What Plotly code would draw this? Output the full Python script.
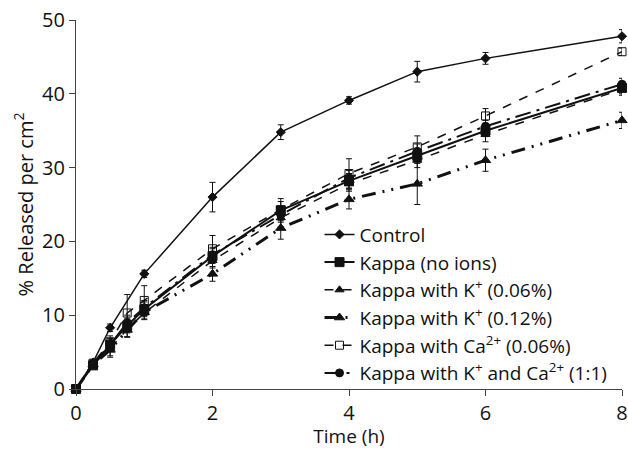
import plotly.graph_objects as go

TIME = [0, 0.25, 0.5, 0.75, 1, 2, 3, 4, 5, 6, 8]
TIME_CONTROL = [0, 0.25, 0.5, 1, 2, 3, 4, 5, 6, 8]

CONTROL = [0, 3.6, 8.3, 15.6, 26.0, 34.8, 39.1, 43.0, 44.8, 47.8]
CONTROL_ERR = [0, 0.3, 0.5, 0.5, 2.0, 1.0, 0.5, 1.4, 0.8, 0.9]

KAPPA = [0, 3.2, 6.0, 8.6, 10.8, 18.0, 24.2, 28.2, 31.6, 35.0, 40.8]
KAPPA_ERR = [0, 0.3, 0.8, 1.0, 1.0, 1.0, 1.2, 1.0, 1.0, 0.8, 0.8]

K006 = [0, 3.3, 5.5, 8.1, 10.3, 17.4, 23.2, 27.8, 31.0, 34.5, 40.6]
K006_ERR = [0, 0.3, 1.0, 1.0, 0.8, 1.0, 1.2, 1.0, 1.0, 1.0, 0.8]

K012 = [0, 3.3, 5.3, 8.0, 10.4, 15.6, 21.8, 25.7, 27.8, 31.0, 36.4]
K012_ERR = [0, 0.3, 1.0, 1.0, 1.0, 1.0, 1.5, 1.3, 2.8, 1.5, 1.1]

CA006 = [0, 3.5, 6.4, 10.3, 12.0, 19.0, 24.3, 29.2, 32.8, 37.0, 45.7]
CA006_ERR = [0, 0.3, 0.8, 2.5, 2.0, 1.8, 1.5, 2.0, 1.5, 1.0, 0.5]

KCA = [0, 3.5, 6.0, 9.0, 11.0, 18.2, 23.6, 28.6, 32.2, 35.6, 41.3]
KCA_ERR = [0, 0.3, 0.8, 1.0, 1.0, 1.0, 1.0, 1.0, 1.0, 0.8, 0.8]

FONT = "Open Sans"
INK = "#111111"


def series(x, y, err, name, dash, width, symbol, size):
    return go.Scatter(
        x=x,
        y=y,
        name=name,
        mode="lines+markers",
        cliponaxis=False,
        line={"color": INK, "width": width, "dash": dash},
        marker={"symbol": symbol, "size": size, "color": INK,
                "line": {"color": INK, "width": 1}},
        error_y={"type": "data", "array": err, "color": INK,
                 "thickness": 1, "width": 3},
    )


fig = go.Figure()
fig.add_trace(series(TIME_CONTROL, CONTROL, CONTROL_ERR, "Control",
                     "solid", 1.5, "diamond", 7))
fig.add_trace(series(TIME, KAPPA, KAPPA_ERR, "Kappa (no ions)",
                     "solid", 2, "square", 9))
fig.add_trace(series(TIME, K006, K006_ERR, "Kappa with K<sup>+</sup> (0.06%)",
                     "dash", 1.5, "triangle-up", 8))
fig.add_trace(series(TIME, K012, K012_ERR, "Kappa with K<sup>+</sup> (0.12%)",
                     "14px,7px,2px,7px,2px,7px", 3, "triangle-up", 9))
fig.add_trace(series(TIME, CA006, CA006_ERR, "Kappa with Ca<sup>2+</sup> (0.06%)",
                     "dash", 1.5, "square-open", 8))
fig.add_trace(series(TIME, KCA, KCA_ERR, "Kappa with K<sup>+</sup> and Ca<sup>2+</sup> (1:1)",
                     "16px,6px,3px,6px", 2, "circle", 8))

axis_common = dict(
    showline=True,
    linecolor="#444444",
    linewidth=1.2,
    ticks="outside",
    ticklen=6,
    tickcolor="#444444",
    showgrid=False,
    zeroline=False,
    automargin=False,
    ticklabeloverflow="allow",
    tickfont={"size": 20, "color": INK},
)

fig.update_layout(
    width=628,
    height=449,
    margin={"l": 76, "r": 6, "t": 20, "b": 60},
    plot_bgcolor="white",
    paper_bgcolor="white",
    font={"family": FONT, "color": INK},
    legend={
        "x": 0.446,
        "y": 0.47,
        "xanchor": "left",
        "yanchor": "top",
        "font": {"size": 19},
        "bgcolor": "rgba(0,0,0,0)",
        "tracegroupgap": 0,
        "itemwidth": 30,
    },
    xaxis=dict(axis_common, range=[0, 8], dtick=2,
               title={"text": "Time (h)", "font": {"size": 19}, "standoff": 7}),
    yaxis=dict(axis_common, range=[0, 50], dtick=10,
               title={"text": "% Released per cm<sup>2</sup>", "font": {"size": 20}, "standoff": 3}),
)

# drop the default body margin so the 628x449 figure fills the window exactly
fig.write_html("out.html", config={"displayModeBar": False},
               post_script="document.body.style.margin = '0';")
